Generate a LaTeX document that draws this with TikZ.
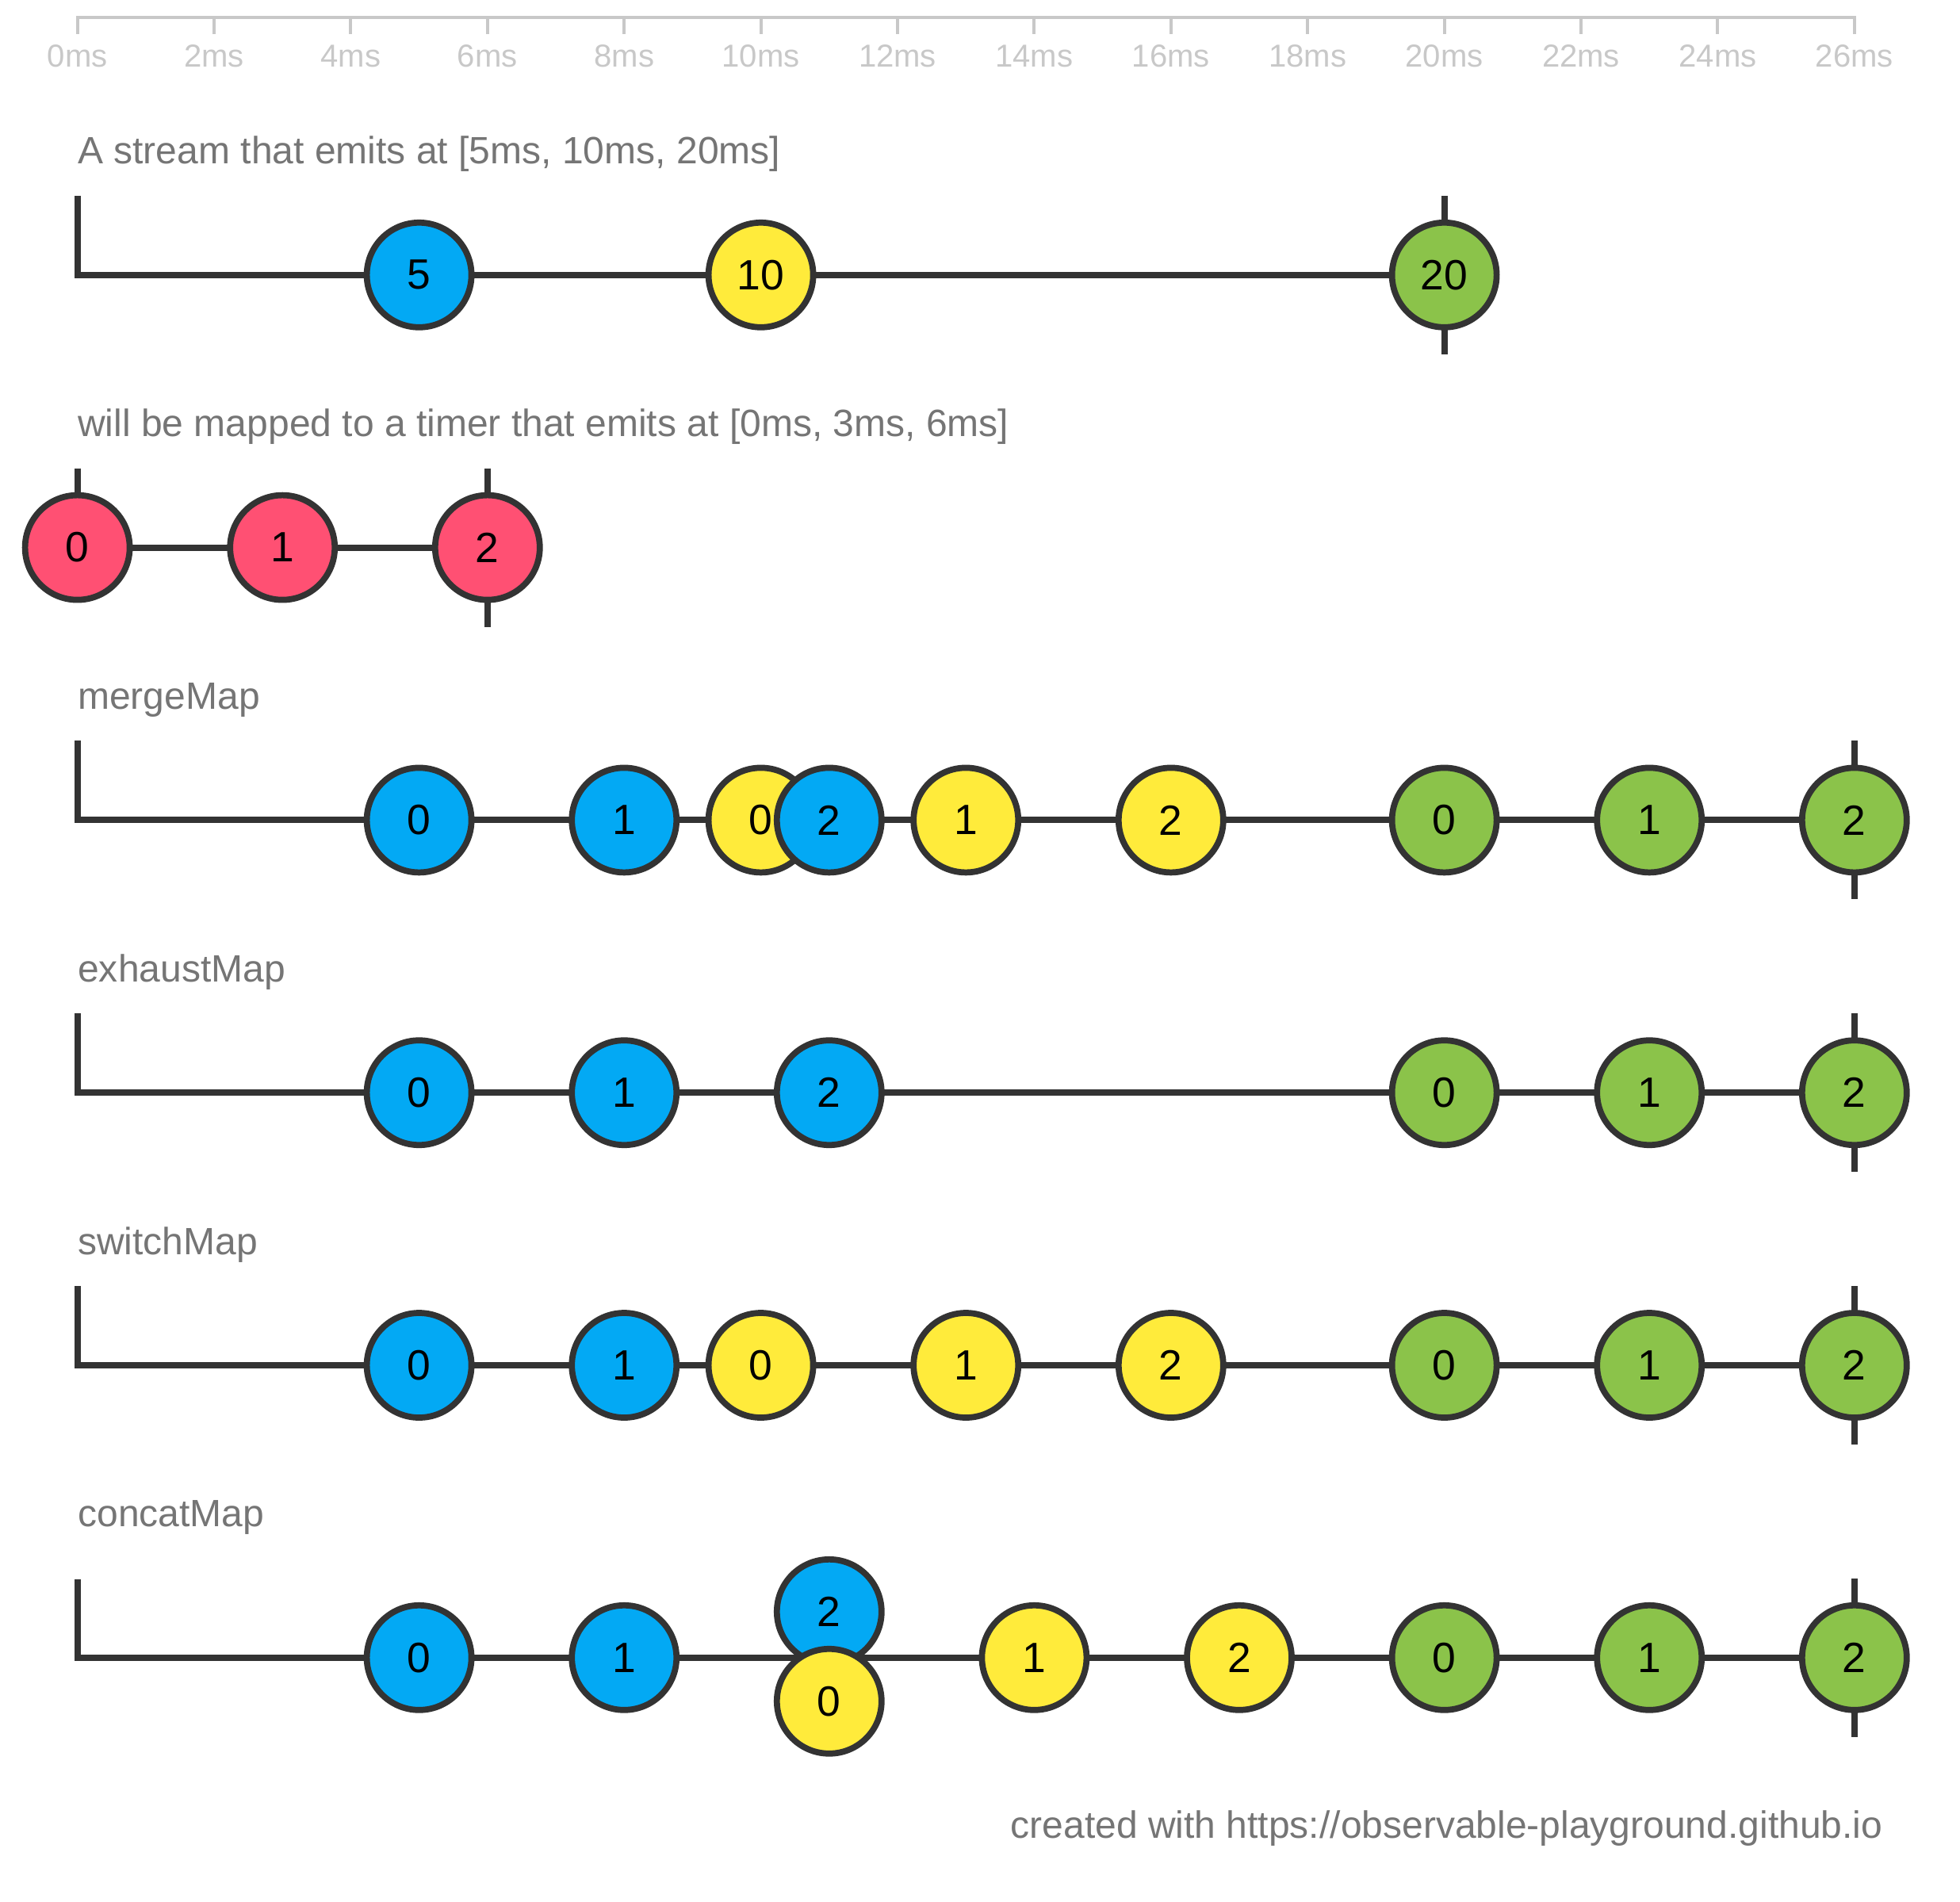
\documentclass[tikz,border=0pt]{standalone}
\usepackage{fontspec}
\setmainfont{Liberation Sans}

\definecolor{ink}{HTML}{333333}
\definecolor{labelgrey}{HTML}{757575}
\definecolor{axisgrey}{HTML}{C8C8C8}
\definecolor{rxblue}{HTML}{03A9F4}
\definecolor{rxyellow}{HTML}{FFEB3B}
\definecolor{rxgreen}{HTML}{8BC34A}
\definecolor{rxred}{HTML}{FF5073}

\begin{document}
\begin{tikzpicture}[x=0.862cm, y=0.01cm,
        ball/.style={shape=circle, draw=ink, line width=2.2pt, minimum size=1.32cm, inner sep=0pt, font=\fontsize{15.2}{18}\selectfont},
        blueball/.style={ball, fill=rxblue},
        yellowball/.style={ball, fill=rxyellow},
        greenball/.style={ball, fill=rxgreen},
        redball/.style={ball, fill=rxred},
        tl/.style={draw=ink, line width=2.25pt},
        axisline/.style={draw=axisgrey, line width=1.15pt},
        ticklabel/.style={text=axisgrey, anchor=base, inner sep=0pt, font=\fontsize{11.4}{13}\selectfont},
        title/.style={text=labelgrey, anchor=base west, inner sep=0pt, font=\fontsize{13.66}{16}\selectfont}]
        \useasboundingbox (-1.1323,0) rectangle (27.545,-2400);

        % time axis
        \coordinate (ax-0) at (0,-22);
        \coordinate (ax-26) at (26,-22);
        \draw[axisline] (0,-43) -- (ax-0) -- (ax-26) -- (26,-43);
        \foreach \tm in {2,4,...,24}
            \draw[axisline] (\tm,-22) -- (\tm,-43);
        \foreach \tm in {0,2,...,26}
            \node[ticklabel] (ms\tm) at (\tm,-85) {\tm ms};

        % source stream
        \node[title] (title-a) at (0,-207) {A stream that emits at [5ms, 10ms, 20ms]};
        \coordinate (a-start) at (0,-247);
        \coordinate (a-end) at (20,-347);
        \coordinate (a-up) at (20,-247);
        \coordinate (a-down) at (20,-447);
        \draw[tl] (a-start) |- (a-end);
        \draw[tl] (a-up) -- (a-down);
        \node[blueball] (a5) at (5,-347) {5};
        \node[yellowball] (a10) at (10,-347) {10};
        \node[greenball] (a20) at (20,-347) {20};

        % inner timer
        \node[title] (title-t) at (0,-551) {will be mapped to a timer that emits at [0ms, 3ms, 6ms]};
        \coordinate (t-start) at (0,-591);
        \coordinate (t-end) at (6,-691);
        \coordinate (t-up) at (6,-591);
        \coordinate (t-down) at (6,-791);
        \draw[tl] (t-start) |- (t-end);
        \draw[tl] (t-up) -- (t-down);
        \node[redball] (t0) at (0,-691) {0};
        \node[redball] (t3) at (3,-691) {1};
        \node[redball] (t6) at (6,-691) {2};

        % mergeMap
        \node[title] (title-m) at (0,-895) {mergeMap};
        \coordinate (m-start) at (0,-935);
        \coordinate (m-end) at (26,-1035);
        \coordinate (m-up) at (26,-935);
        \coordinate (m-down) at (26,-1135);
        \draw[tl] (m-start) |- (m-end);
        \draw[tl] (m-up) -- (m-down);
        \node[blueball] (m5) at (5,-1035) {0};
        \node[blueball] (m8) at (8,-1035) {1};
        \node[yellowball] (m10) at (10,-1035) {0};
        \node[blueball] (m11) at (11,-1035) {2};
        \node[yellowball] (m13) at (13,-1035) {1};
        \node[yellowball] (m16) at (16,-1035) {2};
        \node[greenball] (m20) at (20,-1035) {0};
        \node[greenball] (m23) at (23,-1035) {1};
        \node[greenball] (m26) at (26,-1035) {2};

        % exhaustMap
        \node[title] (title-x) at (0,-1239) {exhaustMap};
        \coordinate (x-start) at (0,-1279);
        \coordinate (x-end) at (26,-1379);
        \coordinate (x-up) at (26,-1279);
        \coordinate (x-down) at (26,-1479);
        \draw[tl] (x-start) |- (x-end);
        \draw[tl] (x-up) -- (x-down);
        \node[blueball] (x5) at (5,-1379) {0};
        \node[blueball] (x8) at (8,-1379) {1};
        \node[blueball] (x11) at (11,-1379) {2};
        \node[greenball] (x20) at (20,-1379) {0};
        \node[greenball] (x23) at (23,-1379) {1};
        \node[greenball] (x26) at (26,-1379) {2};

        % switchMap
        \node[title] (title-s) at (0,-1583) {switchMap};
        \coordinate (s-start) at (0,-1623);
        \coordinate (s-end) at (26,-1723);
        \coordinate (s-up) at (26,-1623);
        \coordinate (s-down) at (26,-1823);
        \draw[tl] (s-start) |- (s-end);
        \draw[tl] (s-up) -- (s-down);
        \node[blueball] (s5) at (5,-1723) {0};
        \node[blueball] (s8) at (8,-1723) {1};
        \node[yellowball] (s10) at (10,-1723) {0};
        \node[yellowball] (s13) at (13,-1723) {1};
        \node[yellowball] (s16) at (16,-1723) {2};
        \node[greenball] (s20) at (20,-1723) {0};
        \node[greenball] (s23) at (23,-1723) {1};
        \node[greenball] (s26) at (26,-1723) {2};

        % concatMap
        \node[title] (title-c) at (0,-1927) {concatMap};
        \coordinate (c-start) at (0,-1993);
        \coordinate (c-end) at (26,-2092);
        \coordinate (c-up) at (26,-1992);
        \coordinate (c-down) at (26,-2192);
        \draw[tl] (c-start) |- (c-end);
        \draw[tl] (c-up) -- (c-down);
        \node[blueball] (c5) at (5,-2092) {0};
        \node[blueball] (c8) at (8,-2092) {1};
        \node[blueball] (c11a) at (11,-2034) {2};
        \node[yellowball] (c11b) at (11,-2147) {0};
        \node[yellowball] (c14) at (14,-2092) {1};
        \node[yellowball] (c17) at (17,-2092) {2};
        \node[greenball] (c20) at (20,-2092) {0};
        \node[greenball] (c23) at (23,-2092) {1};
        \node[greenball] (c26) at (26,-2092) {2};

        \node[title, anchor=base east] (credit) at (26.42,-2320) {created with https://observable-playground.github.io};
    \end{tikzpicture}
\end{document}
